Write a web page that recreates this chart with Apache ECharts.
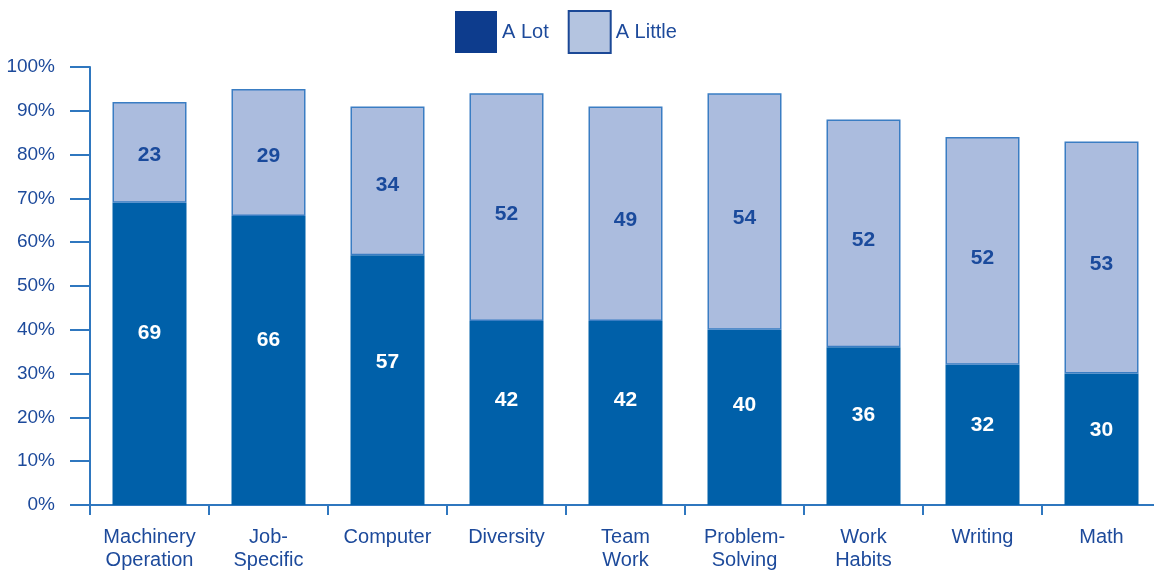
<!DOCTYPE html>
<html>
<head>
<meta charset="utf-8">
<script src="https://cdn.jsdelivr.net/npm/echarts@6/dist/echarts.min.js"></script>
<style>
  html, body { margin: 0; padding: 0; background: #ffffff; }
  #chart { width: 1154px; height: 571px; }
</style>
</head>
<body>
<div id="chart"></div>
<script>
// Skill categories along the x axis
const categories = [
  'Machinery\nOperation', 'Job-\nSpecific', 'Computer', 'Diversity', 'Team\nWork',
  'Problem-\nSolving', 'Work\nHabits', 'Writing', 'Math'
];
// Percent answering "A Lot"
const aLot = [69, 66, 57, 42, 42, 40, 36, 32, 30];
// Percent answering "A Little"
const aLittle = [23, 29, 34, 52, 49, 54, 52, 52, 53];
// Y axis range and step (percent)
const yMin = 0, yMax = 100, yStep = 10;

const FONT = '"Liberation Sans", Arial, Helvetica, sans-serif';
const AXIS = '#2f77bf';
const TEXT = '#1d4a9b';

const chart = echarts.init(document.getElementById('chart'), null, { renderer: 'canvas' });

chart.setOption({
  animation: false,
  backgroundColor: '#ffffff',
  legend: {
    left: 450,
    top: 5,
    itemWidth: 42,
    itemHeight: 42,
    itemGap: 19,
    icon: 'rect',
    textStyle: { color: TEXT, fontFamily: FONT, fontSize: 20, padding: [0, 0, 0, 0] },
    data: [
      { name: 'A Lot', itemStyle: { color: '#0d3c8d', borderWidth: 0 } },
      { name: 'A Little', itemStyle: { color: '#b4c4e0', borderColor: '#1b4896', borderWidth: 2 } }
    ]
  },
  grid: { left: 90, right: -7, top: 67, bottom: 66, containLabel: false, outerBoundsMode: 'none' },
  xAxis: {
    type: 'category',
    data: categories,
    axisLine: { show: true, lineStyle: { color: AXIS, width: 2 } },
    axisTick: { show: true, alignWithLabel: false, length: 10, lineStyle: { color: AXIS, width: 2 } },
    axisLabel: {
      color: TEXT, fontFamily: FONT, fontSize: 20, lineHeight: 23,
      margin: 21, interval: 0
    },
    splitLine: { show: false }
  },
  yAxis: {
    type: 'value',
    min: yMin, max: yMax, interval: yStep,
    axisLine: { show: true, lineStyle: { color: AXIS, width: 2 } },
    axisTick: { show: true, inside: false, length: 20, lineStyle: { color: AXIS, width: 2 } },
    axisLabel: {
      color: TEXT, fontFamily: FONT, fontSize: 19, margin: 35,
      formatter: '{value}%'
    },
    splitLine: { show: false }
  },
  series: [
    {
      name: 'A Lot',
      type: 'bar',
      stack: 'total',
      barWidth: 74,
      data: aLot,
      itemStyle: { color: '#0060a9' },
      label: {
        show: true,
        position: ['50%', '43%'],
        align: 'center',
        verticalAlign: 'middle',
        color: '#ffffff',
        fontFamily: FONT,
        fontWeight: 'bold',
        fontSize: 21
      }
    },
    {
      name: 'A Little',
      type: 'bar',
      stack: 'total',
      barWidth: 74,
      data: aLittle,
      itemStyle: { color: '#abbcde', borderColor: '#3a7dc3', borderWidth: 1.5 },
      label: {
        show: true,
        position: ['50%', '53%'],
        align: 'center',
        verticalAlign: 'middle',
        color: '#1a4a9c',
        fontFamily: FONT,
        fontWeight: 'bold',
        fontSize: 21
      }
    }
  ]
});
</script>
</body>
</html>
